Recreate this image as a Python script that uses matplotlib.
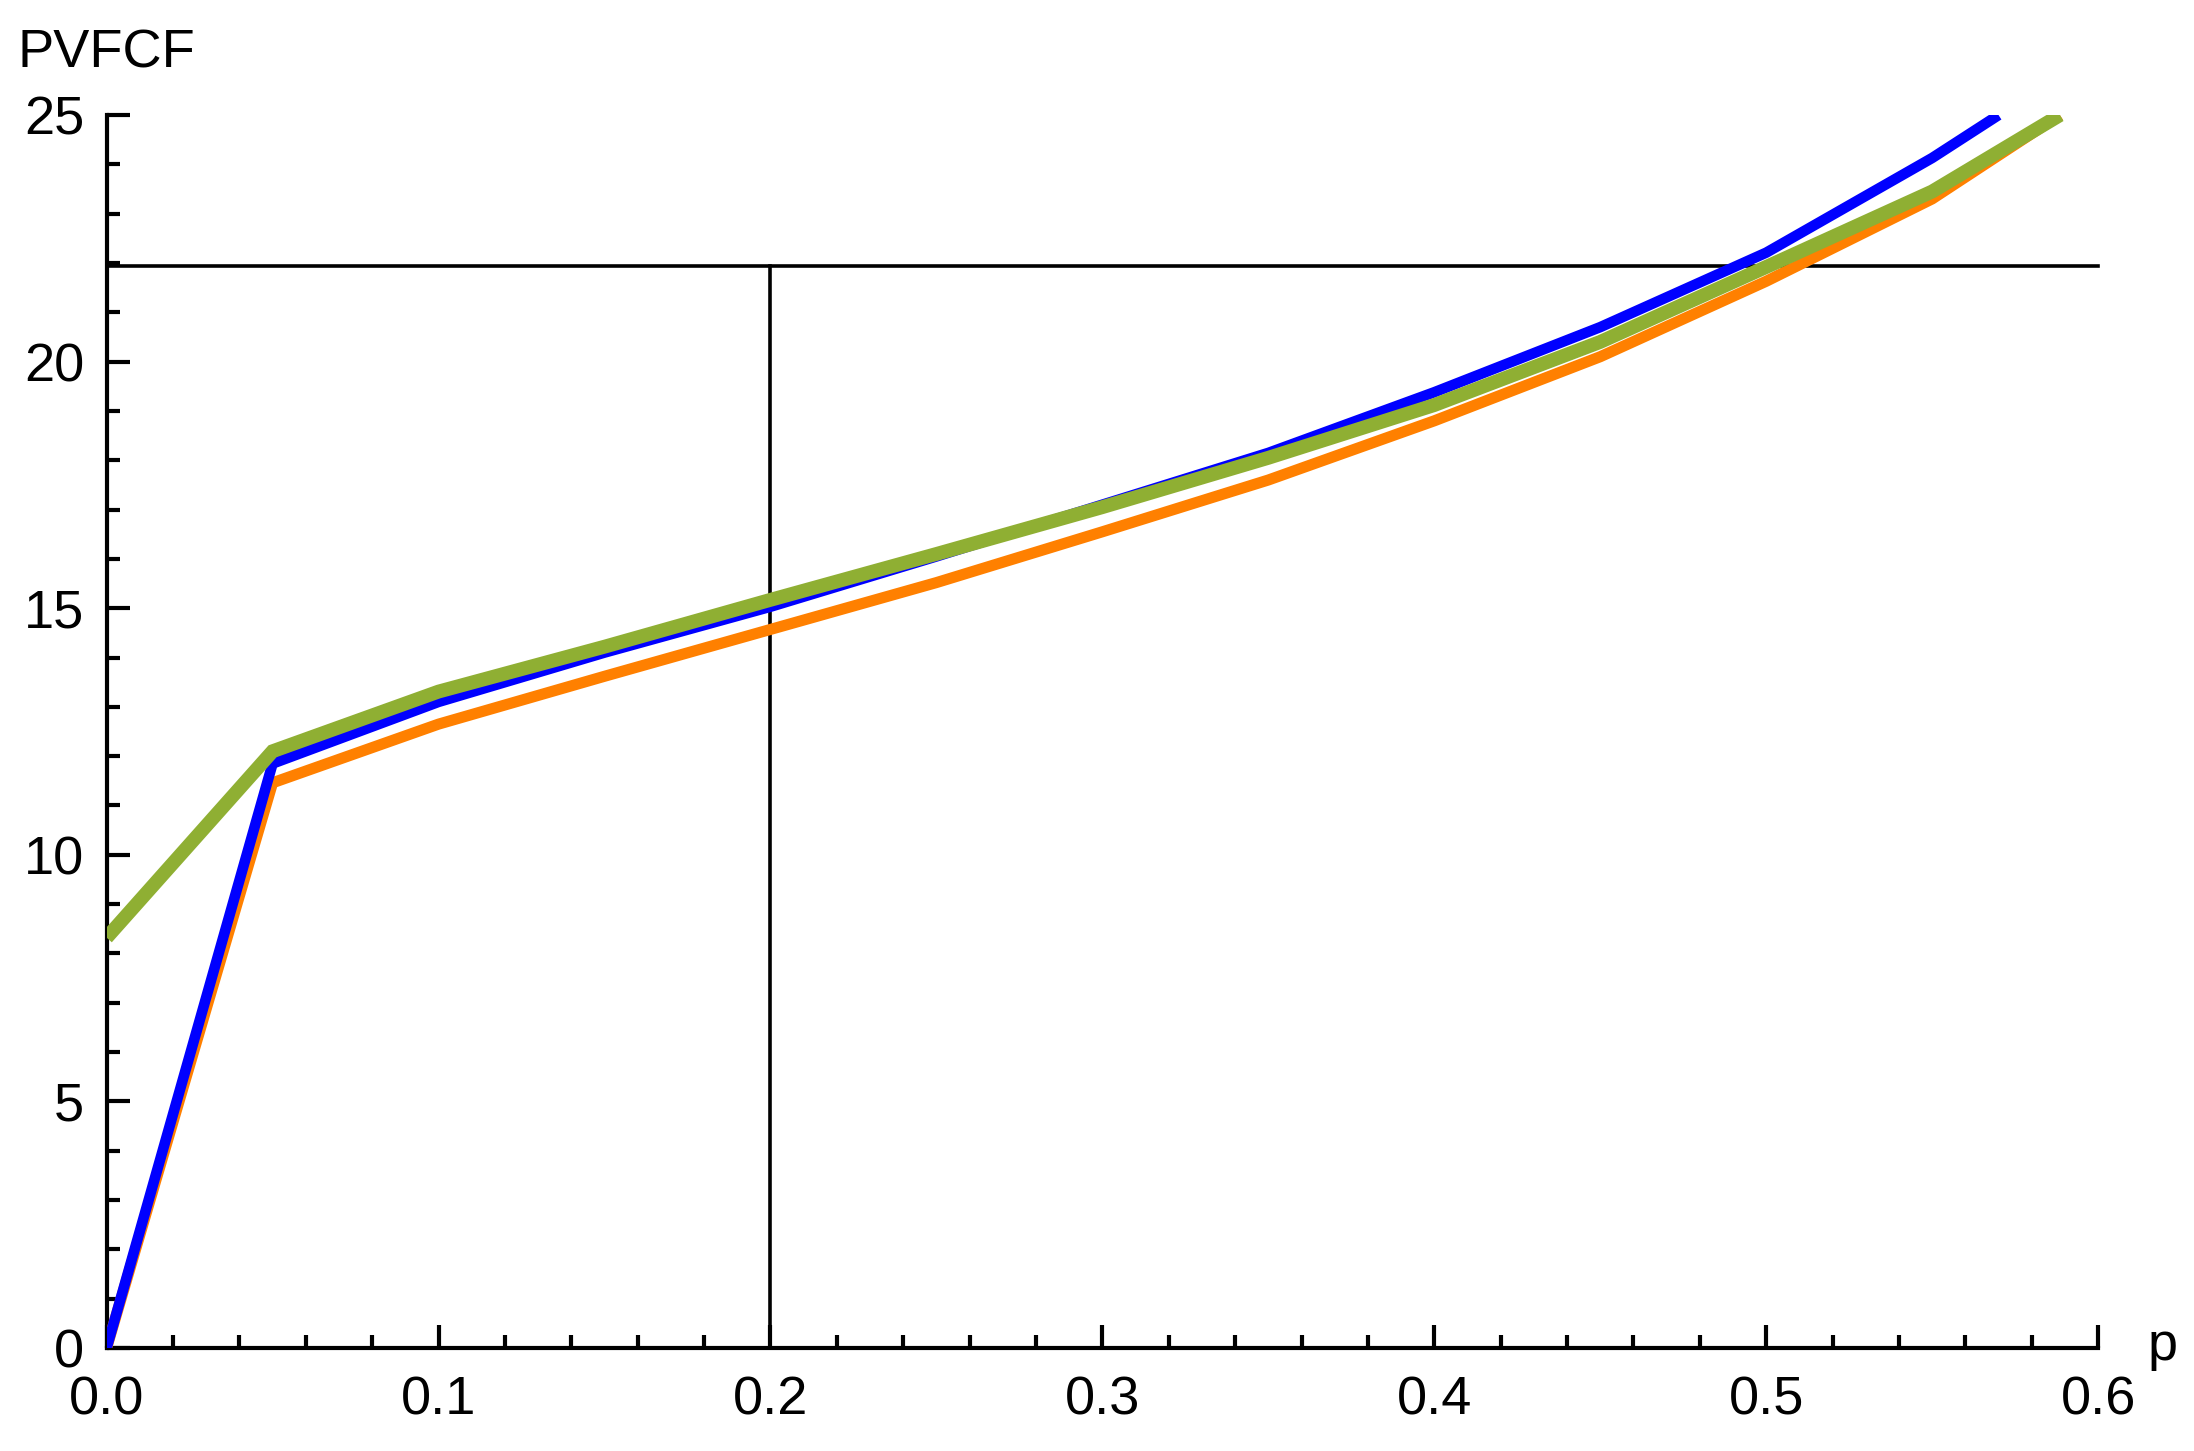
import matplotlib
matplotlib.use("Agg")
import matplotlib.pyplot as plt
from matplotlib.ticker import MultipleLocator, FormatStrFormatter

# Data
p_blue = [0.0, 0.05, 0.10, 0.15, 0.20, 0.25, 0.30, 0.35, 0.40, 0.45, 0.50, 0.55, 0.57]
v_blue = [0.0, 11.85, 13.10, 14.10, 15.03, 16.05, 17.10, 18.15, 19.38, 20.70, 22.21, 24.13, 25.0]

p_orange = [0.0, 0.05, 0.10, 0.15, 0.20, 0.25, 0.30, 0.35, 0.40, 0.45, 0.50, 0.55, 0.5885]
v_orange = [0.0, 11.46, 12.65, 13.62, 14.57, 15.52, 16.55, 17.60, 18.80, 20.10, 21.63, 23.30, 25.0]

p_green = [0.0, 0.05, 0.10, 0.15, 0.20, 0.25, 0.30, 0.35, 0.40, 0.45, 0.50, 0.55, 0.5885]
v_green = [8.32, 12.10, 13.31, 14.22, 15.17, 16.10, 17.05, 18.05, 19.12, 20.40, 21.92, 23.45, 25.0]

h_level = 21.93
v_p = 0.2

x_ticks = [0.0, 0.1, 0.2, 0.3, 0.4, 0.5, 0.6]
y_ticks = [0, 5, 10, 15, 20, 25]

plt.rcParams['font.family'] = ['Liberation Sans', 'DejaVu Sans']

fig = plt.figure(figsize=(10.97, 7.255), dpi=200)
ax = fig.add_axes([0.0486, 0.071, 0.9077, 0.8497])

ax.plot(p_orange, v_orange, color='#FF8000', lw=4.0, solid_capstyle='butt', solid_joinstyle='miter', zorder=3)
ax.plot(p_blue, v_blue, color='#0000FF', lw=3.8, solid_capstyle='butt', solid_joinstyle='miter', zorder=4)
ax.plot(p_green, v_green, color='#8FAF33', lw=5.0, solid_capstyle='butt', solid_joinstyle='miter', zorder=5)

ax.plot([0, 0.6], [h_level, h_level], color='black', lw=1.3, zorder=2, clip_on=False)
ax.plot([v_p, v_p], [0, h_level], color='black', lw=1.3, zorder=2, clip_on=False)

ax.set_xlim(0, 0.6)
ax.set_ylim(0, 25)
for s in ['top', 'right']:
    ax.spines[s].set_visible(False)
for s in ['left', 'bottom']:
    ax.spines[s].set_linewidth(1.5)

ax.set_xticks(x_ticks)
ax.set_yticks(y_ticks)
ax.xaxis.set_major_formatter(FormatStrFormatter('%.1f'))
ax.xaxis.set_minor_locator(MultipleLocator(0.02))
ax.yaxis.set_minor_locator(MultipleLocator(1))
ax.tick_params(axis='both', which='major', direction='in', length=8.3, width=1.5, labelsize=19.5)
ax.tick_params(axis='both', which='minor', direction='in', length=4.7, width=1.5)
ax.tick_params(axis='x', which='major', pad=10)
ax.tick_params(axis='y', which='major', pad=8)

fig.text(18 / 2194, 1 - 67 / 1451, 'PVFCF', fontsize=19.5, ha='left', va='baseline')
fig.text(2148 / 2194, 1 - 1360 / 1451, 'p', fontsize=19.5, ha='left', va='baseline')

fig.savefig('out.png', dpi=200, facecolor='white')
